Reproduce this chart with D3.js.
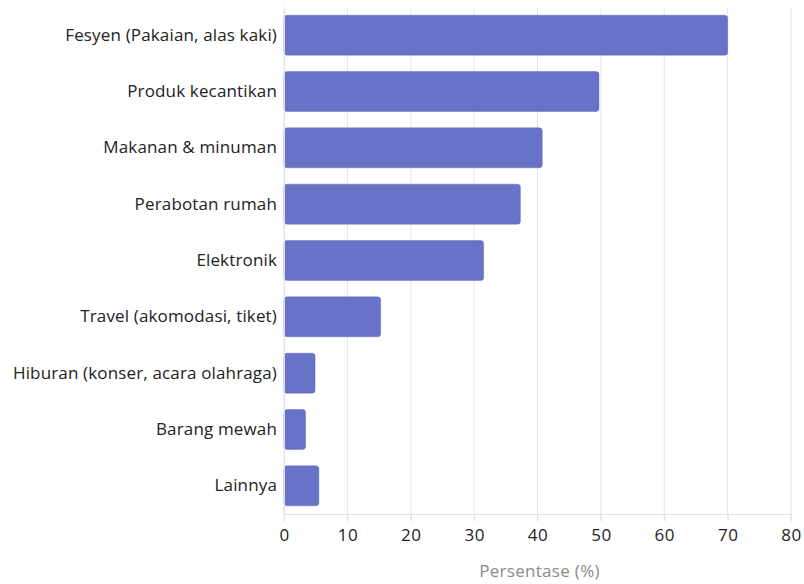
<!DOCTYPE html>
<html>
<head>
<meta charset="utf-8">
<script src="https://cdn.jsdelivr.net/npm/d3@7"></script>
<style>
  body { margin: 0; background: #fff; }
  text { font-family: "Open Sans", Lato, sans-serif; }
</style>
</head>
<body>
<div id="chart"></div>
<script>
const categories = [
    "Fesyen (Pakaian, alas kaki)",
    "Produk kecantikan",
    "Makanan & minuman",
    "Perabotan rumah",
    "Elektronik",
    "Travel (akomodasi, tiket)",
    "Hiburan (konser, acara olahraga)",
    "Barang mewah",
    "Lainnya"
];
const values = [70, 49.7, 40.75, 37.3, 31.5, 15.25, 4.9, 3.4, 5.5];
const xTicks = [0, 10, 20, 30, 40, 50, 60, 70, 80];
const xTitle = "Persentase (%)";

const data = categories.map((c, i) => ({category: c, value: values[i]}));

const width = 804, height = 584;
const margin = {top: 7, right: 13, bottom: 70, left: 284};
const innerW = width - margin.left - margin.right;
const innerH = height - margin.top - margin.bottom;
const font = "'Open Sans', Lato, sans-serif";

const svg = d3.select("#chart").append("svg")
    .attr("width", width)
    .attr("height", height);

const g = svg.append("g")
    .attr("transform", `translate(${margin.left}, ${margin.top})`);

const x = d3.scaleLinear()
    .domain([0, 80])
    .range([0, innerW]);

const y = d3.scaleBand()
    .domain(categories)
    .range([0, innerH])
    .paddingInner(0.29)
    .paddingOuter(0.145);

// grid
g.append("g")
    .selectAll("line")
    .data(xTicks)
    .join("line")
    .attr("x1", d => x(d))
    .attr("x2", d => x(d))
    .attr("y1", 0)
    .attr("y2", innerH + 7)
    .attr("stroke", "#e6e6e6")
    .attr("stroke-width", 1);

// bars
g.selectAll("rect.bar")
    .data(data)
    .join("rect")
    .attr("class", "bar")
    .attr("x", x(0))
    .attr("y", d => y(d.category))
    .attr("width", d => x(d.value) - x(0))
    .attr("height", y.bandwidth())
    .attr("rx", 3)
    .attr("fill", "#5360bf")
    .attr("fill-opacity", 0.88)
    .attr("stroke", "#5360bf")
    .attr("stroke-opacity", 0.4);

// x axis
const xAxis = d3.axisBottom(x)
    .tickValues(xTicks)
    .tickSize(7)
    .tickPadding(8)
    .tickSizeOuter(0);

const xg = g.append("g")
    .attr("transform", `translate(0, ${innerH})`)
    .call(xAxis);
xg.select(".domain").attr("stroke", "#e0e0e0");
xg.selectAll(".tick line").attr("stroke", "#e0e0e0");
xg.selectAll(".tick text")
    .attr("fill", "#222")
    .style("font-size", "17px")
    .style("letter-spacing", "0.5px")
    .style("font-family", font);

// y axis
const yAxis = d3.axisLeft(y)
    .tickSize(0)
    .tickPadding(7);

const yg = g.append("g").call(yAxis);
yg.select(".domain").attr("stroke", "#e0e0e0");
yg.selectAll(".tick text")
    .attr("fill", "#222")
    .style("font-size", "17px")
    .style("letter-spacing", "0.15px")
    .style("font-family", font);

// axis title
g.append("text")
    .attr("x", innerW / 2 + 2)
    .attr("y", innerH + 63)
    .attr("text-anchor", "middle")
    .attr("fill", "#8a8a8a")
    .style("font-size", "17px")
    .style("letter-spacing", "0.3px")
    .style("font-family", font)
    .text(xTitle);
</script>
</body>
</html>
